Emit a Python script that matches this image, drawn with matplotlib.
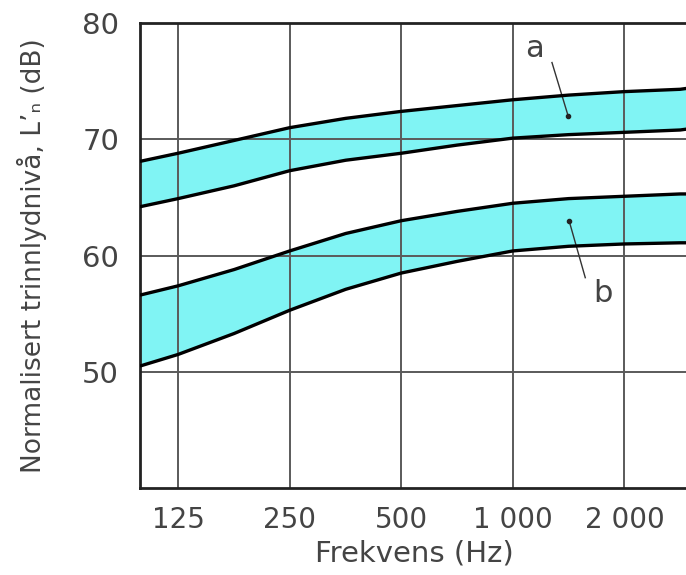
import numpy as np
import matplotlib
matplotlib.use("Agg")
import matplotlib.pyplot as plt

# frequencies (Hz), incl. the left/right edges of the plot
freq = [98.6, 125, 177, 250, 354, 500, 707, 1000, 1414, 2000, 2828, 2982]

# band a (upper and lower curve), dB
a_hi = [68.1, 68.8, 69.9, 71.0, 71.8, 72.4, 72.9, 73.4, 73.8, 74.1, 74.3, 74.4]
a_lo = [64.2, 64.9, 66.0, 67.3, 68.2, 68.8, 69.5, 70.1, 70.4, 70.6, 70.8, 70.9]

# band b
b_hi = [56.6, 57.4, 58.8, 60.4, 61.9, 63.0, 63.8, 64.5, 64.9, 65.1, 65.3, 65.3]
b_lo = [50.5, 51.5, 53.3, 55.3, 57.1, 58.5, 59.5, 60.4, 60.8, 61.0, 61.1, 61.1]

xticks = [125, 250, 500, 1000, 2000]
xlabels = ["125", "250", "500", "1 000", "2 000"]
yticks = [50, 60, 70, 80]

txt = "#444444"
fill = "#80f4f4"

fig = plt.figure(figsize=(6.86, 5.75), dpi=100)
ax = fig.add_axes([0.204, 0.151, 0.80, 0.809])

ax.set_xscale("log")
ax.set_xlim(98.6, 2982)
ax.set_ylim(40, 80)

ax.fill_between(freq, a_lo, a_hi, color=fill, lw=0, zorder=1)
ax.fill_between(freq, b_lo, b_hi, color=fill, lw=0, zorder=1)
for c in (a_hi, a_lo, b_hi, b_lo):
    ax.plot(freq, c, color="black", lw=2.4, zorder=4, solid_capstyle="butt")

ax.set_xticks(xticks)
ax.set_xticklabels(xlabels)
ax.xaxis.set_minor_locator(matplotlib.ticker.NullLocator())
ax.set_yticks(yticks)
ax.grid(True, color="#5a5a5a", lw=1.4, zorder=2)
for gl in ax.get_xgridlines() + ax.get_ygridlines():
    gl.set_zorder(2)

ax.tick_params(length=0, labelcolor=txt)
ax.tick_params(axis="x", labelsize=20, pad=13)
ax.tick_params(axis="y", labelsize=21, pad=15)

for s in ("left", "bottom", "top"):
    ax.spines[s].set_linewidth(2)
    ax.spines[s].set_color("#222222")
ax.spines["right"].set_visible(False)

ax.set_xlabel("Frekvens (Hz)", fontsize=21, color=txt, labelpad=4)
ax.set_ylabel("Normalisert trinnlydnivå, L\u2019\u2099 (dB)", fontsize=19, color=txt, labelpad=25)

# labels for the two bands
ax.text(1147, 77.8, "a", fontsize=22, color=txt, ha="center", va="center")
ax.plot([1275, 1410], [76.6, 72.0], color="#333333", lw=1)
ax.plot([1410], [72.0], "o", color="#222222", ms=3, zorder=5)

ax.text(1745, 56.7, "b", fontsize=22, color=txt, ha="center", va="center")
ax.plot([1418, 1568], [63.0, 58.1], color="#333333", lw=1)
ax.plot([1418], [63.0], "o", color="#222222", ms=3, zorder=5)

fig.savefig("out.png", dpi=100)
